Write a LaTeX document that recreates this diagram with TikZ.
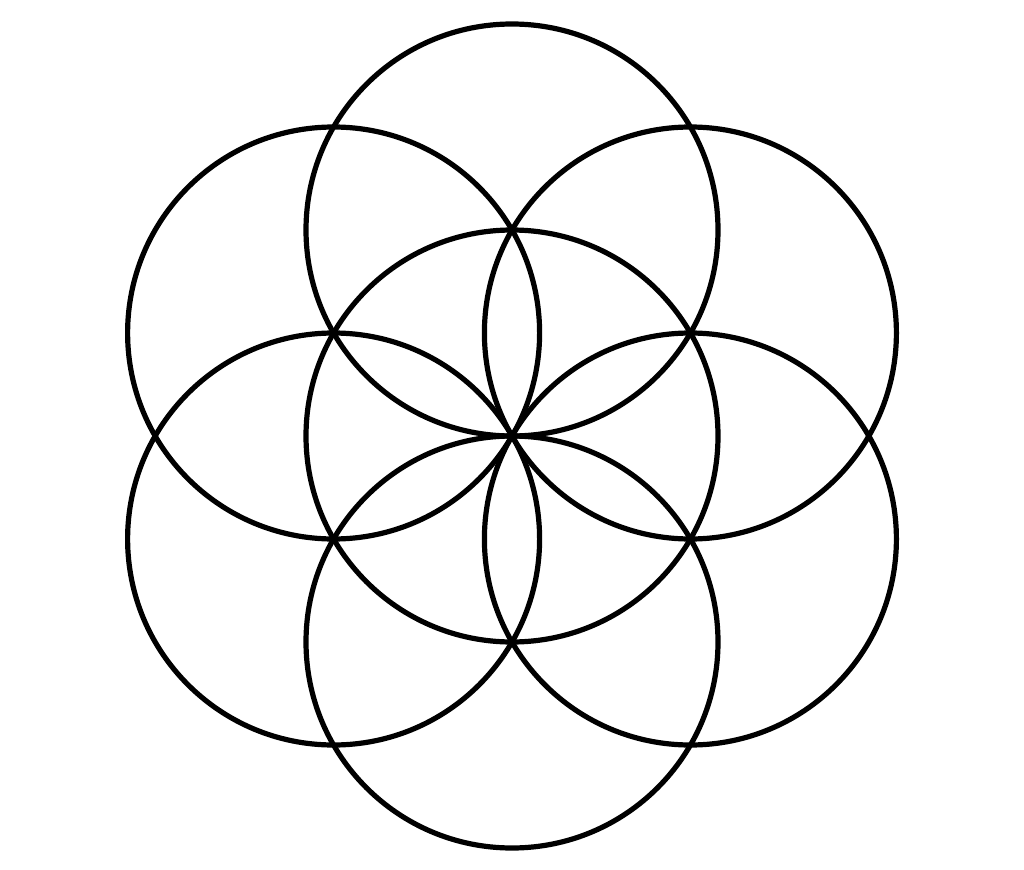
\documentclass[tikz,border=0pt]{standalone}
\usetikzlibrary{calc}
\begin{document}
\begin{tikzpicture}[x=1pt,y=-1pt,ring/.style={draw=black,line width=5.2pt}]
\useasboundingbox (0,0) rectangle (1024,869);
\coordinate (c) at (512,436);
\draw[ring] (c) circle[radius=206];
\foreach \a in {30,90,150,210,270,330}{
  \draw[ring] ($(c)+(\a:206)$) circle[radius=206];
}
\end{tikzpicture}
\end{document}
